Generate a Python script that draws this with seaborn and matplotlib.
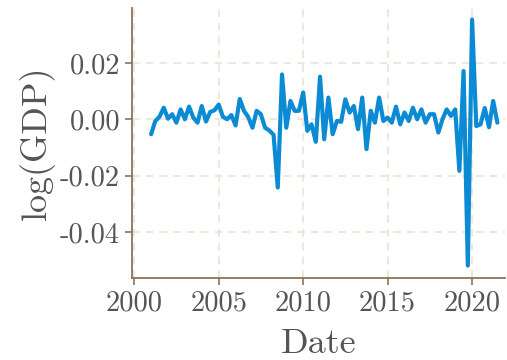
import pandas as pd
import numpy as np
import matplotlib
matplotlib.use('Agg')
import matplotlib.pyplot as plt
import matplotlib.dates as mdates
import matplotlib.ticker as mticker
import seaborn as sns

# quarterly log-diff of GDP
start = '2001-01-01'
n_quarters = 83
log_gdp = [
    -0.0053, -0.0006, 0.0009, 0.0041, 0.0002, 0.0018, -0.0012, 0.0035,
    0.0000, 0.0045, 0.0006, -0.0012, 0.0047, -0.0008, 0.0026, 0.0032,
    0.0052, 0.0009, 0.0000, 0.0015, -0.0022, 0.0072, 0.0030, 0.0008,
    -0.0030, 0.0030, 0.0018, -0.0030, -0.0040, -0.0055, -0.0242, 0.0159,
    -0.0030, 0.0065, 0.0030, 0.0030, 0.0095, -0.0041, -0.0018, -0.0080,
    0.0151, -0.0071, 0.0077, -0.0053, -0.0006, -0.0009, 0.0071, 0.0024,
    0.0047, -0.0035, 0.0077, -0.0106, 0.0030, -0.0012, 0.0077, -0.0006,
    0.0006, -0.0012, 0.0045, -0.0018, 0.0024, -0.0006, 0.0041, 0.0000,
    0.0035, -0.0012, 0.0018, 0.0018, -0.0047, 0.0000, 0.0035, 0.0012,
    0.0035, -0.0183, 0.0171, -0.0519, 0.0354, -0.0024, -0.0018, 0.0040,
    -0.0028, 0.0065, -0.0012,
]
y_ticks = [-0.04, -0.02, 0.00, 0.02]

df = pd.DataFrame({'Date': pd.date_range(start, periods=n_quarters, freq='QS'),
                   'log(GDP)': log_gdp})

sns.set_style('ticks')
plt.rcParams['font.family'] = 'cmr10'
plt.rcParams['mathtext.fontset'] = 'cm'
plt.rcParams['axes.unicode_minus'] = False
plt.rcParams['axes.formatter.use_mathtext'] = True

spine_col = '#8c735a'
text_col = '#555555'
grid_col = '#ece0d2'

fig = plt.figure(figsize=(5.07, 3.60), dpi=100)
ax = fig.add_axes([0.2604, 0.2278, 0.7356, 0.7502])

sns.lineplot(x='Date', y='log(GDP)', data=df, ax=ax, color='#0a8bd3', linewidth=3.0)

ax.set_xlim(pd.Timestamp('1999-11-15'), pd.Timestamp('2021-12-12'))
ax.set_ylim(-0.0563, 0.0395)
ax.xaxis.set_major_locator(mdates.YearLocator(5))
ax.xaxis.set_major_formatter(mdates.DateFormatter('%Y'))
ax.set_yticks(y_ticks)
ax.yaxis.set_major_formatter(mticker.FormatStrFormatter('%.2f'))

ax.grid(True, linestyle=(0, (5, 4)), color=grid_col, linewidth=1.1)
sns.despine(ax=ax)
for s in ['left', 'bottom']:
    ax.spines[s].set_color(spine_col)
    ax.spines[s].set_linewidth(1.3)
ax.tick_params(colors=spine_col, labelcolor=text_col, labelsize=20.5, length=5, width=1.2)

ax.set_xlabel('Date', fontsize=26, color=text_col, labelpad=9)
ax.set_ylabel('log(GDP)', fontsize=26, color=text_col, labelpad=4)

plt.savefig('out.png', dpi=100)
